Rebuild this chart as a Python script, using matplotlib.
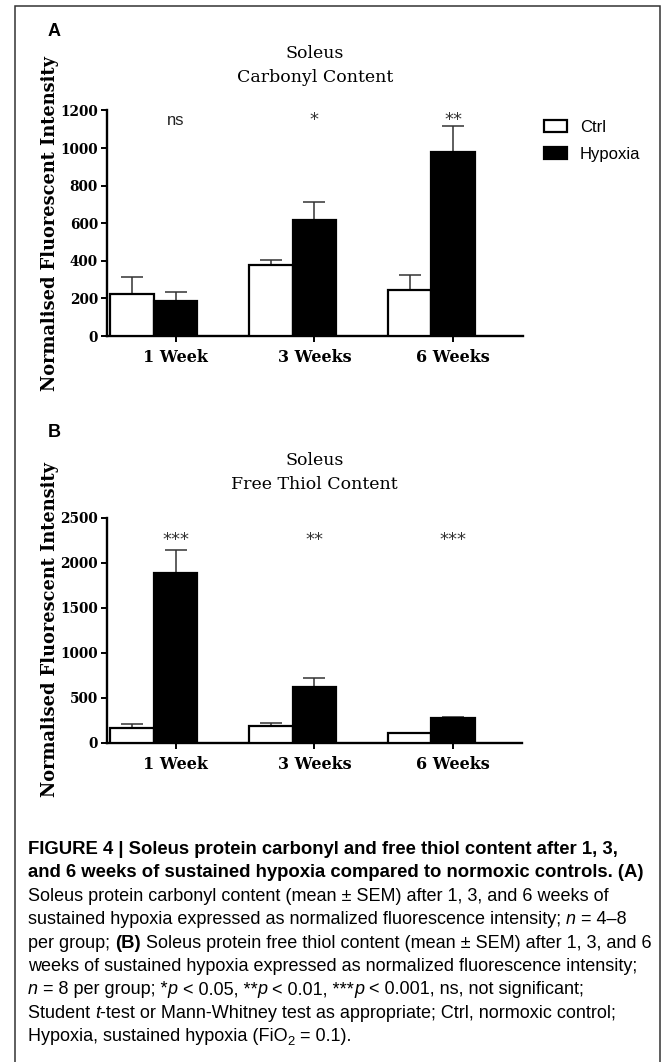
import numpy as np
import matplotlib
matplotlib.use('Agg')
import matplotlib.pyplot as plt
from matplotlib.transforms import IdentityTransform
from matplotlib.patches import Rectangle

# data
weeks = ['1 Week', '3 Weeks', '6 Weeks']
carbonyl_ctrl = [226, 377, 247]
carbonyl_ctrl_sem = [89, 27, 77]
carbonyl_hyp = [188, 617, 981]
carbonyl_hyp_sem = [45, 98, 136]
carbonyl_sig = ['ns', '*', '**']

thiol_ctrl = [163, 187, 101]
thiol_ctrl_sem = [45, 26, 5]
thiol_hyp = [1880, 617, 273]
thiol_hyp_sem = [260, 97, 15]
thiol_sig = ['***', '**', '***']

W, H = 669, 1062
fig = plt.figure(figsize=(W / 100, H / 100), dpi=100)
fig.patch.set_facecolor('white')

SERIF = 'DejaVu Serif'
SANS = 'Liberation Sans'


def px(x, y):
    # pixel position (from top-left) -> figure fraction
    return x / W, 1 - y / H


def panel(top, bottom, right, ctrl, ctrl_sem, hyp, hyp_sem, sig, ymax, step,
          sig_y, title, letter, letter_y):
    left = 107
    ax = fig.add_axes([left / W, 1 - bottom / H, (right - left) / W, (bottom - top) / H])
    x = np.arange(len(weeks))
    w = 0.314
    b1 = ax.bar(x - w, ctrl, w, facecolor='white', edgecolor='black', lw=1.6,
                label='Ctrl', zorder=3)
    b2 = ax.bar(x, hyp, w, facecolor='black', edgecolor='black', lw=1.6,
                label='Hypoxia', zorder=3)
    ax.errorbar(x - w, ctrl, yerr=[np.zeros(3), ctrl_sem], fmt='none',
                ecolor='#333333', elinewidth=1.1, capsize=7.9, capthick=1.1, zorder=2)
    ax.errorbar(x, hyp, yerr=[np.zeros(3), hyp_sem], fmt='none',
                ecolor='#333333', elinewidth=1.1, capsize=7.9, capthick=1.1, zorder=2)
    for xi, s in zip(x, sig):
        if s == 'ns':
            ax.text(xi, sig_y, s, ha='center', va='baseline', fontsize=12,
                    family=SANS, color='#222222')
        else:
            ax.text(xi, sig_y, s, ha='center', va='baseline', fontsize=13,
                    family='DejaVu Sans', color='#333333')

    ax.set_xlim(-0.495, -0.495 + (right - left) / 138.7)
    ax.set_ylim(0, ymax)
    ax.set_yticks(np.arange(0, ymax + 1, step))
    ax.set_xticks(x)
    ax.set_xticklabels(weeks)
    for sp in ['top', 'right']:
        ax.spines[sp].set_visible(False)
    for sp in ['left', 'bottom']:
        ax.spines[sp].set_linewidth(1.7)
    ax.tick_params(axis='y', direction='out', length=4.5, width=1.4, pad=2,
                   labelsize=9.8)
    ax.tick_params(axis='x', direction='out', length=4.5, width=1.4, pad=5,
                   labelsize=11.5)
    for lab in ax.get_yticklabels() + ax.get_xticklabels():
        lab.set_family(SERIF)
        lab.set_fontweight('bold')

    cx = (left + right) / 2
    fig.text(*px(50, (top + bottom) / 2), 'Normalised Fluorescent Intensity',
             rotation=90, ha='center', va='center', family=SERIF,
             fontweight='bold', fontsize=12.8)
    fig.text(*px(cx, top - 57), 'Soleus', ha='center', va='center',
             family=SERIF, fontsize=12.5)
    fig.text(*px(cx, top - 33), title, ha='center', va='center',
             family=SERIF, fontsize=12.5)
    fig.text(*px(54, letter_y), letter, ha='center', va='center',
             family=SANS, fontweight='bold', fontsize=13)
    return ax, b1, b2


axA, c1, c2 = panel(110.5, 336, 523, carbonyl_ctrl, carbonyl_ctrl_sem,
                    carbonyl_hyp, carbonyl_hyp_sem, carbonyl_sig, 1200, 200,
                    1125, 'Carbonyl Content', 'A', 31)
axB, _, _ = panel(517.5, 742.5, 522, thiol_ctrl, thiol_ctrl_sem,
                  thiol_hyp, thiol_hyp_sem, thiol_sig, 2500, 500,
                  2194, 'Free Thiol Content', 'B', 433)

axA.legend(handles=[c1, c2], loc='upper left',
           bbox_to_anchor=px(544, 119.5), bbox_transform=fig.transFigure,
           frameon=False, borderpad=0, borderaxespad=0, handlelength=1.38,
           handleheight=0.75, handletextpad=0.78, labelspacing=0.72,
           prop={'family': SANS, 'size': 12})

# frame around the figure
fig.patches.append(Rectangle((14.5 / W, -0.01), (660 - 14.5) / W, 1.01 - 6 / H,
                             transform=fig.transFigure, fill=False,
                             edgecolor='#333333', lw=1.1))

# caption, drawn run by run so bold / italic parts sit inline
renderer = fig.canvas.get_renderer()
CAP = 13.0
CAP_BOLD = 13.3


def run_width(txt, **kw):
    t1 = fig.text(0, 0, '|' + txt + '|', transform=IdentityTransform(), **kw)
    t2 = fig.text(0, 0, '||', transform=IdentityTransform(), **kw)
    wdt = t1.get_window_extent(renderer).width - t2.get_window_extent(renderer).width
    t1.remove()
    t2.remove()
    return wdt


def caption_line(runs, base):
    x = 28
    for txt, kind in runs:
        kw = dict(family=SANS, fontsize=CAP, color='black')
        y = H - base
        if kind == 'b':
            kw['fontweight'] = 'bold'
            kw['fontsize'] = CAP_BOLD
        elif kind == 'i':
            kw['fontstyle'] = 'italic'
        elif kind == 'sub':
            kw['fontsize'] = CAP * 0.72
            y -= 4
        fig.text(x, y, txt, transform=IdentityTransform(), va='baseline', **kw)
        x += run_width(txt, **kw)


lines = [
    [('FIGURE 4 | Soleus protein carbonyl and free thiol content after 1, 3,', 'b')],
    [('and 6 weeks of sustained hypoxia compared to normoxic controls. (A)', 'b')],
    [('Soleus protein carbonyl content (mean \u00b1 SEM) after 1, 3, and 6 weeks of', 'r')],
    [('sustained hypoxia expressed as normalized fluorescence intensity; ', 'r'),
     ('n', 'i'), (' = 4\u20138', 'r')],
    [('per group; ', 'r'), ('(B)', 'b'),
     (' Soleus protein free thiol content (mean \u00b1 SEM) after 1, 3, and 6', 'r')],
    [('weeks of sustained hypoxia expressed as normalized fluorescence intensity;', 'r')],
    [('n', 'i'), (' = 8 per group; *', 'r'), ('p', 'i'), (' < 0.05, **', 'r'),
     ('p', 'i'), (' < 0.01, ***', 'r'), ('p', 'i'),
     (' < 0.001, ns, not significant;', 'r')],
    [('Student ', 'r'), ('t', 'i'),
     ('-test or Mann-Whitney test as appropriate; Ctrl, normoxic control;', 'r')],
    [('Hypoxia, sustained hypoxia (FiO', 'r'), ('2', 'sub'), (' = 0.1).', 'r')],
]
for i, runs in enumerate(lines):
    caption_line(runs, 854 + 23.4 * i)

fig.savefig('out.png', dpi=100, facecolor='white')
